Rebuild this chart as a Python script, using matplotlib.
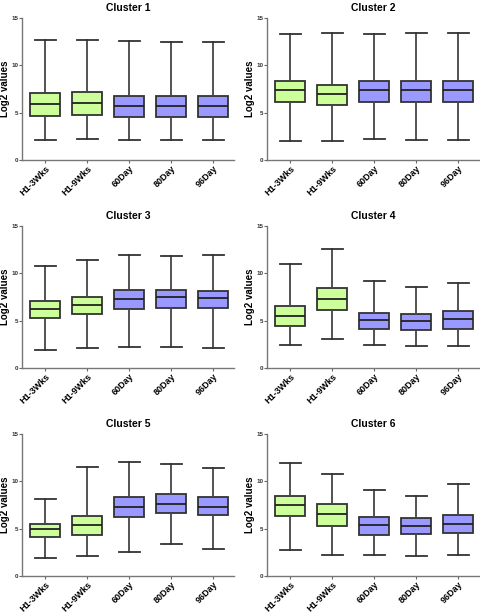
import numpy as np
import matplotlib.pyplot as plt

plt.rcParams['font.family'] = ['Liberation Sans', 'DejaVu Sans']

# Datos: whisker bajo, Q1, mediana, Q3, whisker alto
grupos = ['H1-3Wks', 'H1-9Wks', '60Day', '80Day', '96Day']
titulos = ['Cluster 1', 'Cluster 2', 'Cluster 3', 'Cluster 4', 'Cluster 5', 'Cluster 6']

low = [[2.08, 2.22, 2.15, 2.08, 2.08],
       [2.04, 2.04, 2.22, 2.15, 2.15],
       [1.94, 2.08, 2.19, 2.22, 2.15],
       [2.39, 3.03, 2.46, 2.32, 2.29],
       [1.95, 2.16, 2.51, 3.40, 2.83],
       [2.79, 2.19, 2.19, 2.10, 2.20]]
q1 = [[4.61, 4.75, 4.54, 4.54, 4.50],
      [6.13, 5.77, 6.09, 6.13, 6.16],
      [5.33, 5.75, 6.18, 6.39, 6.39],
      [4.44, 6.09, 4.12, 4.05, 4.12],
      [4.14, 4.35, 6.19, 6.69, 6.47],
      [6.39, 5.29, 4.38, 4.40, 4.54]]
med = [[5.88, 6.02, 5.67, 5.67, 5.67],
       [7.36, 6.97, 7.36, 7.36, 7.39],
       [6.25, 6.67, 7.34, 7.45, 7.38],
       [5.53, 7.29, 5.10, 4.96, 5.14],
       [4.92, 5.41, 7.32, 7.61, 7.32],
       [7.55, 6.53, 5.36, 5.31, 5.52]]
q3 = [[7.08, 7.22, 6.80, 6.73, 6.80],
      [8.35, 7.92, 8.31, 8.31, 8.35],
      [7.06, 7.48, 8.22, 8.26, 8.15],
      [6.58, 8.49, 5.85, 5.70, 5.99],
      [5.48, 6.37, 8.35, 8.63, 8.38],
      [8.44, 7.59, 6.25, 6.09, 6.44]]
high = [[12.64, 12.64, 12.57, 12.43, 12.46],
        [13.35, 13.45, 13.27, 13.38, 13.45],
        [10.77, 11.40, 11.97, 11.83, 11.97],
        [11.02, 12.60, 9.15, 8.56, 9.01],
        [8.14, 11.50, 12.06, 11.85, 11.43],
        [11.90, 10.80, 9.07, 8.45, 9.70]]

colores = ['#ccff99', '#ccff99', '#9999ff', '#9999ff', '#9999ff']

fig = plt.figure(figsize=(4.8, 6.16), dpi=100)

izq = [22 / 480, 267 / 480]
arriba = [18, 226, 434]
ancho = 212 / 480
alto = 142 / 616

for i in range(6):
    fila, col = i // 2, i % 2
    ax = fig.add_axes([izq[col], 1 - (arriba[fila] + 142) / 616, ancho, alto])
    stats = []
    for j, g in enumerate(grupos):
        stats.append({'label': g, 'whislo': low[i][j], 'q1': q1[i][j],
                      'med': med[i][j], 'q3': q3[i][j], 'whishi': high[i][j]})
    bp = ax.bxp(stats, showfliers=False, patch_artist=True, widths=0.7,
                boxprops=dict(edgecolor='#333333', linewidth=1.3),
                medianprops=dict(color='#222222', linewidth=1.3),
                whiskerprops=dict(color='#444444', linewidth=1.3),
                capprops=dict(color='#333333', linewidth=1.3),
                capwidths=0.5)
    for caja, c in zip(bp['boxes'], colores):
        caja.set_facecolor(c)

    ax.set_xlim(0.45, 5.5)
    ax.set_ylim(0, 15)
    ax.set_yticks([0, 5, 10, 15])
    ax.set_yticklabels(['0', '5', '10', '15'], fontsize=4.5, fontweight='bold',
                       color='#333333')
    ax.set_xticklabels(grupos, rotation=45, ha='right', rotation_mode='anchor',
                       fontsize=6.5, fontweight='bold')
    ax.tick_params(axis='both', length=2, width=0.8, color='#666666')
    ax.tick_params(axis='y', pad=0.5)
    ax.tick_params(axis='x', pad=1)
    for s in ['top', 'right']:
        ax.spines[s].set_visible(False)
    for s in ['left', 'bottom']:
        ax.spines[s].set_color('#777777')
        ax.spines[s].set_linewidth(1.0)
    ax.set_ylabel('Log2 values', fontsize=7, fontweight='bold', labelpad=1)
    ax.set_title(titulos[i], fontsize=7.5, fontweight='bold', pad=5)

plt.savefig('out.png', dpi=100)
